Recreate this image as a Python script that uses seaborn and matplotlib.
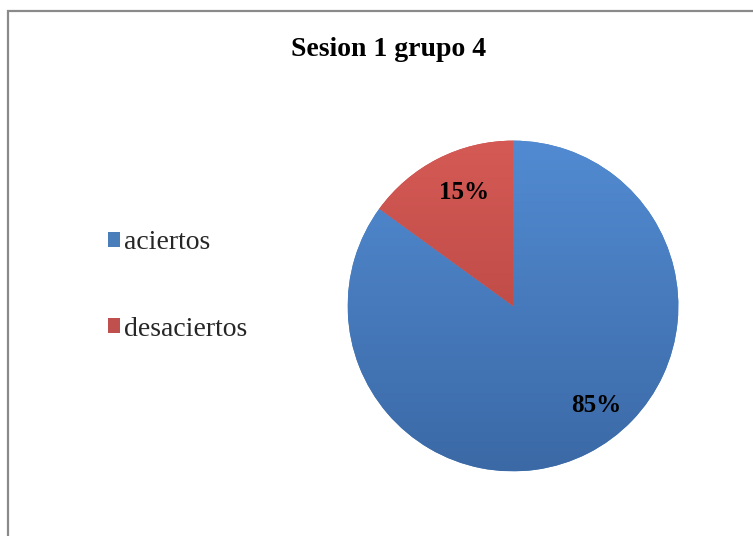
import numpy as np
import matplotlib
matplotlib.use("Agg")
import matplotlib.pyplot as plt
from matplotlib.patches import Patch, Rectangle
from matplotlib.colors import LinearSegmentedColormap
import seaborn as sns

# Chart data
categories = ["aciertos", "desaciertos"]
values = [85, 15]
title = "Sesion 1 grupo 4"

sns.set_theme(style="white")
plt.rcParams["font.family"] = ["Liberation Serif", "DejaVu Serif"]

colors = sns.color_palette(["#4A7EBB", "#C0504D"])
shades = [("#528BD2", "#3B69A6"), ("#D55A55", "#AC3F3C")]

W, H = 753, 536
fig = plt.figure(figsize=(W / 100, H / 100), dpi=100)
fig.patch.set_facecolor("white")

# Chart area frame (top and left edges visible)
frame = Rectangle((8 / W, -0.2), 1.2, (H - 10.5) / H + 0.2, transform=fig.transFigure,
                  fill=False, edgecolor="#8A8A8A", linewidth=1.6, clip_on=False)
fig.patches.append(frame)

fig.text(389 / W, 1 - 49 / H, title, ha="center", va="center",
         fontsize=20, fontweight="bold", color="black")

cx, cy, r = 513, 306, 167
ax = fig.add_axes([(cx - r) / W, (H - cy - r) / H, 2 * r / W, 2 * r / H])
wedges, texts, autotexts = ax.pie(
    values, colors=colors, startangle=90, counterclock=False,
    autopct="%1.0f%%", pctdistance=0.75, radius=1.0,
    wedgeprops=dict(linewidth=0),
    textprops=dict(fontsize=18, fontweight="bold", color="black"))

# Vertical shading inside each slice
grad = np.linspace(0, 1, 256).reshape(-1, 1)
for w, (top, bot) in zip(wedges, shades):
    cmap = LinearSegmentedColormap.from_list("s", [bot, top])
    im = ax.imshow(grad, cmap=cmap, extent=[-1, 1, -1, 1], origin="lower",
                   aspect="auto", zorder=w.get_zorder() + 0.1)
    im.set_clip_path(w)
for t in autotexts:
    t.set_zorder(5)
autotexts[0].set_position((84 / r, -100 / r))
autotexts[1].set_position((-49 / r, 115 / r))

ax.set_xlim(-1.01, 1.01)
ax.set_ylim(-1.01, 1.01)
ax.set_aspect("equal")
ax.axis("off")

handles = [Patch(facecolor=c, edgecolor="none") for c in colors]
fig.legend(handles, categories, loc="center left",
           bbox_to_anchor=(83 / W, 1 - 286 / H), frameon=False,
           fontsize=20, handlelength=0.42, handleheight=0.42,
           handletextpad=0.15, labelspacing=2.2)

fig.savefig("out.png", dpi=100, facecolor="white")
